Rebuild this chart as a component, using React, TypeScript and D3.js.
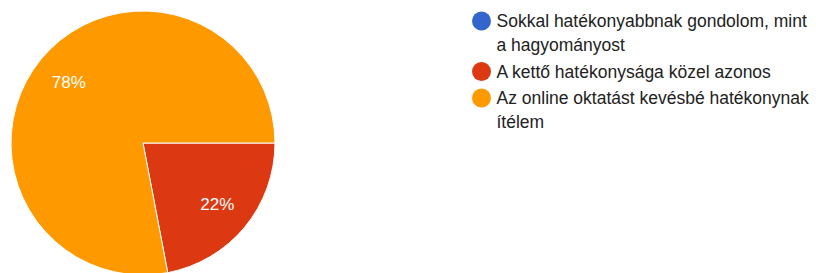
import React from "react";
import * as d3 from "d3";

const categories = [
  "Sokkal hatékonyabbnak gondolom, mint a hagyományost",
  "A kettő hatékonysága közel azonos",
  "Az online oktatást kevésbé hatékonynak ítélem",
];
// legend lines as they wrap in the picture
const legendLines = [
  ["Sokkal hatékonyabbnak gondolom, mint", "a hagyományost"],
  ["A kettő hatékonysága közel azonos"],
  ["Az online oktatást kevésbé hatékonynak", "ítélem"],
];
const values = [0, 22, 78];
const colors = ["#3366cc", "#dc3912", "#ff9900"];

const width = 816;
const height = 273;
const cx = 143;
const cy = 143;
const radius = 132;

export default function App() {
  const pie = d3
    .pie<number>()
    .sort(null)
    .startAngle(Math.PI / 2)
    .endAngle(Math.PI / 2 + 2 * Math.PI);
  const arcs = pie(values);
  const arc = d3.arc<d3.PieArcDatum<number>>().innerRadius(0).outerRadius(radius);
  const labelArc = d3
    .arc<d3.PieArcDatum<number>>()
    .innerRadius(radius * 0.73)
    .outerRadius(radius * 0.73);
  const total = d3.sum(values);

  // legend layout
  const lineH = 24;
  const itemGap = 2.5;
  let y = 21;
  const legendItems = legendLines.map((lines, i) => {
    const item = { y, lines, color: colors[i], name: categories[i] };
    y += lines.length * lineH + itemGap;
    return item;
  });

  return (
    <svg
      width={width}
      height={height}
      style={{ position: "absolute", left: 0, top: 0, background: "#fff" }}
      fontFamily="'Liberation Sans', Arial, sans-serif"
    >
      <g transform={`translate(${cx},${cy})`}>
        {arcs
          .filter((d) => d.value > 0)
          .map((d, i) => (
            <path
              key={i}
              d={arc(d) ?? ""}
              fill={colors[d.index]}
              stroke="#fff"
              strokeWidth={1}
            />
          ))}
        {arcs
          .filter((d) => d.value > 0)
          .map((d, i) => {
            const [x, yy] = labelArc.centroid(d);
            return (
              <text
                key={i}
                x={x}
                y={yy}
                dy="0.35em"
                textAnchor="middle"
                fill="#fff"
                fontSize={17}
              >
                {Math.round((d.value / total) * 100)}%
              </text>
            );
          })}
      </g>
      <g>
        {legendItems.map((it, i) => (
          <g key={i}>
            <circle cx={481.5} cy={it.y} r={9.5} fill={it.color} />
            {it.lines.map((l, j) => (
              <text
                key={j}
                x={496.5}
                y={it.y + j * lineH + 6}
                fontSize={17.5}
                fill="#222"
              >
                {l}
              </text>
            ))}
          </g>
        ))}
      </g>
    </svg>
  );
}
